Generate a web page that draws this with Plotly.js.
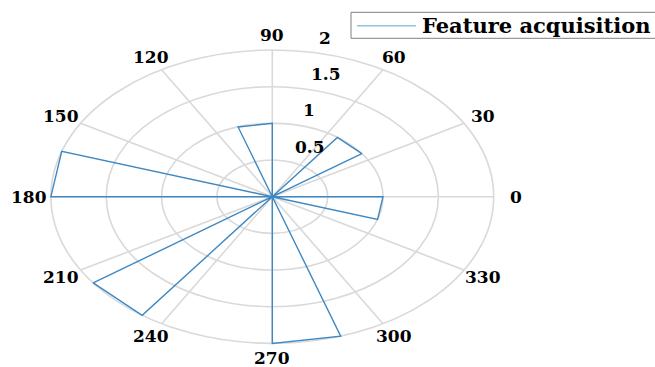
<!DOCTYPE html>
<html>
<head>
<meta charset="utf-8">
<script src="https://cdn.plot.ly/plotly-3.0.1.min.js"></script>
<style>
  html, body { margin: 0; padding: 0; background: #ffffff; }
  #chart { width: 655px; height: 367px; }
</style>
</head>
<body>
<div id="chart"></div>
<script>
// Rose histogram: 20 angular bins of 18 degrees each
const binEdgesDeg = [0, 18, 36, 54, 72, 90, 108, 126, 144, 162, 180,
                     198, 216, 234, 252, 270, 288, 306, 324, 342, 360];
const binCounts = [0, 0, 1, 0, 0, 1, 0, 0, 0, 2,
                   0, 0, 2, 0, 0, 2, 0, 0, 0, 1];
const seriesName = 'Feature acquisition';

// Polar grid
const ringValues = [0.5, 1, 1.5, 2];
const ringLabels = ['0.5', '1', '1.5', '2'];
const spokeAngles = [0, 30, 60, 90, 120, 150, 180, 210, 240, 270, 300, 330];
const angleLabels = ['0', '30', '60', '90', '120', '150', '180', '210', '240', '270', '300', '330'];

const rMax = 2;
const deg = Math.PI / 180;
const lineBlue = '#3f88c2';
const gridGray = '#d9d9d9';
const labelFont = { family: 'DejaVu Serif', size: 17, color: '#000000', weight: 'bold' };

// Outline of each bin wedge: centre -> edge 1 -> edge 2 -> centre
const px = [], py = [];
for (let i = 0; i < binCounts.length; i++) {
  const a1 = binEdgesDeg[i] * deg, a2 = binEdgesDeg[i + 1] * deg, r = binCounts[i];
  px.push(0, r * Math.cos(a1), r * Math.cos(a2), 0);
  py.push(0, r * Math.sin(a1), r * Math.sin(a2), 0);
}

const shapes = [];
// concentric rings
ringValues.forEach(r => shapes.push({
  type: 'circle', xref: 'x', yref: 'y', x0: -r, x1: r, y0: -r, y1: r,
  line: { color: gridGray, width: 1.6 }, layer: 'below'
}));
// spokes from centre to the outer ring
spokeAngles.forEach(a => shapes.push({
  type: 'line', xref: 'x', yref: 'y', x0: 0, y0: 0,
  x1: rMax * Math.cos(a * deg), y1: rMax * Math.sin(a * deg),
  line: { color: gridGray, width: 1.6 }, layer: 'below'
}));
// legend frame and sample line
shapes.push({
  type: 'rect', xref: 'paper', yref: 'paper',
  x0: 351 / 655, x1: 1.03, y0: 1 - 38.3 / 367, y1: 1 - 12.3 / 367,
  line: { color: '#808080', width: 1 }, fillcolor: '#ffffff'
});
shapes.push({
  type: 'line', xref: 'paper', yref: 'paper',
  x0: 357 / 655, x1: 416 / 655, y0: 1 - 25.7 / 367, y1: 1 - 25.7 / 367,
  line: { color: '#8fc4de', width: 1.5 }
});

const annotations = [];
// angle labels just outside the outer ring
spokeAngles.forEach((a, i) => annotations.push({
  xref: 'x', yref: 'y', x: 1.1 * rMax * Math.cos(a * deg), y: 1.1 * rMax * Math.sin(a * deg),
  text: angleLabels[i], showarrow: false, xanchor: 'center', yanchor: 'middle',
  font: labelFont
}));
// radial labels along the 82 degree direction
ringValues.forEach((r, i) => annotations.push({
  xref: 'x', yref: 'y',
  x: (r + 0.025) * Math.cos(82 * deg), y: (r + 0.025) * Math.sin(82 * deg),
  text: ringLabels[i], showarrow: false, xanchor: 'left', yanchor: 'bottom',
  xshift: 13, font: labelFont
}));
// legend entry text
annotations.push({
  xref: 'paper', yref: 'paper', x: 420 / 655, y: 1 - 25.3 / 367,
  text: seriesName, showarrow: false, xanchor: 'left', yanchor: 'middle',
  font: { family: 'DejaVu Serif', size: 21, color: '#000000', weight: 'bold' }
});

const traces = [{
  type: 'scatter', mode: 'lines', name: seriesName, x: px, y: py,
  line: { color: lineBlue, width: 1.4 }, showlegend: false, hoverinfo: 'skip'
}];

// pixel scale: 110.7 px per unit horizontally, 73.33 px per unit vertically,
// origin at (272.3, 196.7)
const layout = {
  width: 655, height: 367,
  margin: { l: 0, r: 0, t: 0, b: 0, autoexpand: false },
  paper_bgcolor: '#ffffff', plot_bgcolor: '#ffffff',
  xaxis: { range: [-272.3 / 110.7, (655 - 272.3) / 110.7], visible: false, fixedrange: true },
  yaxis: { range: [-(367 - 196.7) / 73.33, 196.7 / 73.33], visible: false, fixedrange: true },
  shapes: shapes, annotations: annotations, showlegend: false
};

Plotly.newPlot('chart', traces, layout, { staticPlot: true, displayModeBar: false });
</script>
</body>
</html>
